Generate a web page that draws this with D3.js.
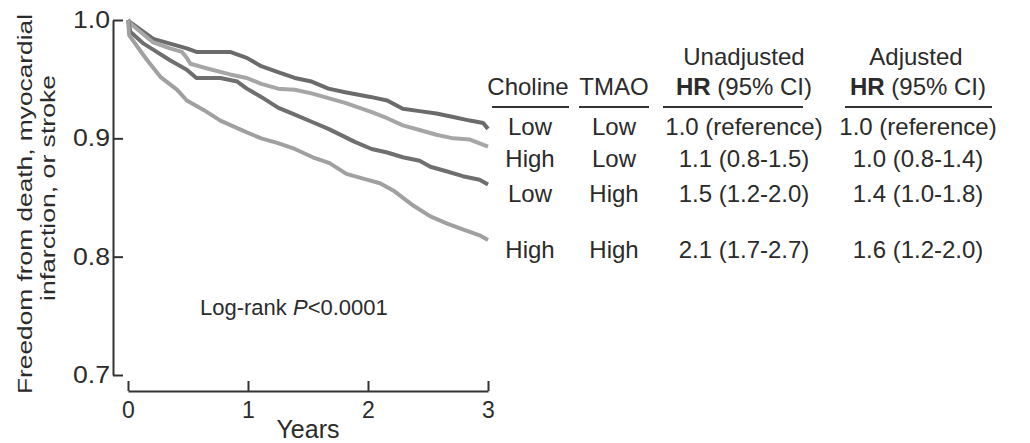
<!DOCTYPE html>
<html>
<head>
<meta charset="utf-8">
<script src="https://cdn.jsdelivr.net/npm/d3@7"></script>
<style>
  html, body { margin: 0; padding: 0; background: #fff; }
  svg { display: block; font-family: "Liberation Sans", Arial, Helvetica, sans-serif; }
</style>
</head>
<body>
<svg id="chart" width="1030" height="443"></svg>
<script>
// ---- Data ----
const xTicks = [0, 1, 2, 3];
const yTicks = [0.7, 0.8, 0.9, 1.0];

// Kaplan–Meier curves: [years, freedom from event]
const lowCholineLowTMAO = [[0,1.0],[0.02,0.998],[0.21,0.984],[0.35,0.980],[0.49,0.976],[0.57,0.973],[0.85,0.973],[0.99,0.968],[1.11,0.961],[1.25,0.956],[1.39,0.951],[1.53,0.948],[1.67,0.942],[1.81,0.939],[2.02,0.935],[2.16,0.932],[2.29,0.925],[2.43,0.923],[2.57,0.921],[2.71,0.918],[2.85,0.915],[2.96,0.913],[3.0,0.908]];
const highCholineLowTMAO = [[0,1.0],[0.02,0.997],[0.21,0.981],[0.35,0.976],[0.45,0.973],[0.49,0.968],[0.52,0.963],[0.66,0.959],[0.85,0.954],[0.99,0.951],[1.11,0.946],[1.25,0.942],[1.39,0.941],[1.53,0.938],[1.67,0.934],[1.81,0.930],[2.02,0.9225],[2.16,0.917],[2.29,0.911],[2.43,0.907],[2.57,0.903],[2.71,0.900],[2.85,0.899],[3.0,0.893]];
const lowCholineHighTMAO = [[0,1.0],[0.02,0.990],[0.13,0.980],[0.21,0.975],[0.35,0.966],[0.49,0.958],[0.57,0.951],[0.77,0.951],[0.91,0.948],[0.99,0.942],[1.11,0.935],[1.25,0.926],[1.39,0.920],[1.53,0.914],[1.67,0.908],[1.81,0.901],[1.89,0.897],[2.03,0.891],[2.16,0.888],[2.29,0.884],[2.43,0.881],[2.52,0.876],[2.66,0.872],[2.79,0.868],[2.93,0.865],[3.0,0.861]];
const highCholineHighTMAO = [[0,1.0],[0.01,0.987],[0.16,0.966],[0.27,0.952],[0.41,0.941],[0.49,0.932],[0.63,0.924],[0.77,0.915],[0.99,0.905],[1.11,0.900],[1.25,0.896],[1.39,0.891],[1.54,0.884],[1.68,0.879],[1.82,0.870],[1.96,0.866],[2.1,0.862],[2.21,0.856],[2.38,0.843],[2.52,0.834],[2.66,0.828],[2.79,0.823],[2.93,0.818],[3.0,0.814]];

const curves = [lowCholineLowTMAO, highCholineLowTMAO, lowCholineHighTMAO, highCholineHighTMAO];
const curveColors = ["#6b6b6b", "#a6a6a6", "#6f6f6f", "#a0a0a0"];

// Table
const cholineLevels = ["Low", "High", "Low", "High"];
const tmaoLevels = ["Low", "Low", "High", "High"];
const unadjustedHR = ["1.0 (reference)", "1.1 (0.8-1.5)", "1.5 (1.2-2.0)", "2.1 (1.7-2.7)"];
const adjustedHR = ["1.0 (reference)", "1.0 (0.8-1.4)", "1.4 (1.0-1.8)", "1.6 (1.2-2.0)"];

// ---- Drawing ----
const svg = d3.select("#chart");
const textColor = "#2b2b2b";
const axisColor = "#333";
const fontFam = "Liberation Sans, Arial, sans-serif";

const x = d3.scaleLinear().domain([0, 3]).range([128, 488]);
const y = d3.scaleLinear().domain([0.7, 1.0]).range([375, 20]);

// Y axis
const yAxis = svg.append("g")
  .attr("transform", "translate(113,0)")
  .call(d3.axisLeft(y).tickValues(yTicks).tickFormat(d3.format(".1f"))
        .tickSizeInner(-10).tickSizeOuter(0).tickPadding(3));
yAxis.attr("font-size", 23).attr("font-family", fontFam);
yAxis.selectAll("text").attr("fill", textColor)
  .attr("textLength", 37).attr("lengthAdjust", "spacingAndGlyphs");

// X axis
const xAxis = svg.append("g")
  .attr("transform", "translate(0,391)")
  .call(d3.axisBottom(x).tickValues(xTicks).tickFormat(d3.format("d"))
        .tickSizeInner(-10).tickSizeOuter(0).tickPadding(11));
xAxis.attr("font-size", 23).attr("font-family", fontFam);
xAxis.selectAll("text").attr("fill", textColor);

svg.selectAll(".domain, .tick line").attr("stroke", axisColor).attr("stroke-width", 2);

// Axis titles
svg.append("text").attr("x", 308).attr("y", 438).attr("text-anchor", "middle")
  .attr("font-size", 25).attr("fill", textColor).text("Years");

svg.append("text").attr("transform", "translate(32,204) rotate(-90)")
  .attr("text-anchor", "middle").attr("font-size", 21).attr("fill", textColor)
  .attr("textLength", 380).attr("lengthAdjust", "spacingAndGlyphs")
  .text("Freedom from death, myocardial");
svg.append("text").attr("transform", "translate(55,188) rotate(-90)")
  .attr("text-anchor", "middle").attr("font-size", 21).attr("fill", textColor)
  .attr("textLength", 226).attr("lengthAdjust", "spacingAndGlyphs")
  .text("infarction, or stroke");

// Curves
const line = d3.line().x(d => x(d[0])).y(d => y(d[1])).curve(d3.curveLinear);
svg.append("g").selectAll("path").data(curves).join("path")
  .attr("d", line)
  .attr("fill", "none")
  .attr("stroke", (d, i) => curveColors[i])
  .attr("stroke-width", 4)
  .attr("stroke-linejoin", "round");

// Log-rank annotation
const lr = svg.append("text").attr("x", 200).attr("y", 315)
  .attr("font-size", 22).attr("fill", textColor);
lr.append("tspan").text("Log-rank ");
lr.append("tspan").attr("font-style", "italic").text("P");
lr.append("tspan").text("<0.0001");

// Table
const colCholine = 530, colTMAO = 614, colUnadj = 744, colAdj = 918;
const tableFont = 24;
const head = svg.append("g").attr("font-size", tableFont).attr("fill", textColor).attr("text-anchor", "middle");
head.append("text").attr("x", colUnadj).attr("y", 65).text("Unadjusted");
head.append("text").attr("x", colAdj - 2).attr("y", 65).text("Adjusted");
head.append("text").attr("x", colCholine - 2).attr("y", 95).text("Choline");
head.append("text").attr("x", colTMAO).attr("y", 95).text("TMAO");
[colUnadj, colAdj].forEach(cx => {
  const t = head.append("text").attr("x", cx).attr("y", 95);
  t.append("tspan").attr("font-weight", "bold").text("HR");
  t.append("tspan").text(" (95% CI)");
});

const underlines = [[492, 569], [579, 649], [663, 803], [845, 992]];
svg.append("g").selectAll("line").data(underlines).join("line")
  .attr("x1", d => d[0]).attr("x2", d => d[1])
  .attr("y1", 107).attr("y2", 107)
  .attr("stroke", axisColor).attr("stroke-width", 2);

const rowY = [135, 167, 202, 258];
const rows = svg.append("g").attr("font-size", tableFont).attr("fill", textColor).attr("text-anchor", "middle");
rows.selectAll("text.ch").data(cholineLevels).join("text").attr("class", "ch")
  .attr("x", colCholine).attr("y", (d, i) => rowY[i]).text(d => d);
rows.selectAll("text.tm").data(tmaoLevels).join("text").attr("class", "tm")
  .attr("x", colTMAO).attr("y", (d, i) => rowY[i]).text(d => d);
rows.selectAll("text.un").data(unadjustedHR).join("text").attr("class", "un")
  .attr("x", colUnadj).attr("y", (d, i) => rowY[i]).text(d => d);
rows.selectAll("text.ad").data(adjustedHR).join("text").attr("class", "ad")
  .attr("x", colAdj).attr("y", (d, i) => rowY[i]).text(d => d);
</script>
</body>
</html>
